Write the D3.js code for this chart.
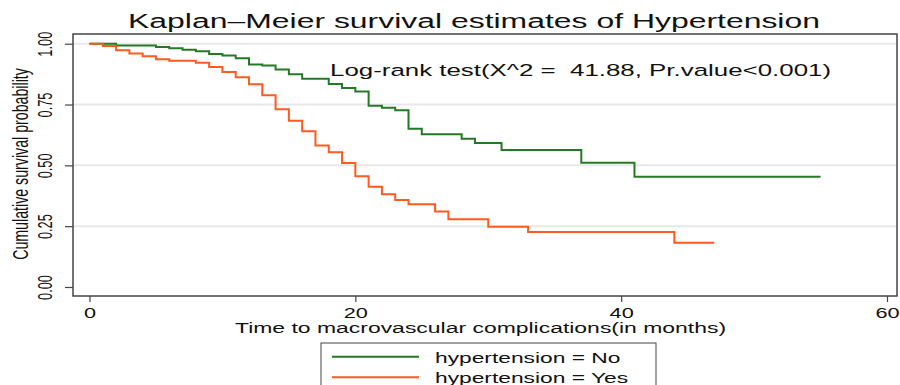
<!DOCTYPE html>
<html>
<head>
<meta charset="utf-8">
<script src="https://cdn.jsdelivr.net/npm/d3@7"></script>
<style>
  body { margin: 0; background: #fff; }
  svg text { font-family: "Liberation Sans", Arial, sans-serif; fill: #111; white-space: pre; }
</style>
</head>
<body>
<div id="chart"></div>
<script>
// data (time in months, survival probability)
const timesNo = [0, 2, 5, 6, 7, 8, 9, 10, 11, 12, 13, 14, 15, 16, 18, 19, 20, 21, 22, 23, 24, 25, 28, 29, 31, 37, 41, 55];
const survNo  = [1, 0.993, 0.986, 0.981, 0.975, 0.969, 0.958, 0.951, 0.940, 0.915, 0.910, 0.894, 0.874, 0.856, 0.834, 0.818, 0.804, 0.745, 0.737, 0.726, 0.650, 0.628, 0.609, 0.592, 0.563, 0.511, 0.453, 0.453];
const timesYes = [0, 1, 2, 3, 4, 5, 6, 8, 9, 10, 11, 12, 13, 14, 15, 16, 17, 18, 19, 20, 21, 22, 23, 24, 26, 27, 30, 33, 44, 47];
const survYes  = [1, 0.991, 0.973, 0.960, 0.948, 0.936, 0.930, 0.922, 0.904, 0.884, 0.862, 0.833, 0.788, 0.731, 0.683, 0.640, 0.582, 0.554, 0.510, 0.455, 0.412, 0.381, 0.358, 0.340, 0.310, 0.278, 0.248, 0.226, 0.182, 0.182];
const xTicks = [0, 20, 40, 60];
const yTicks = [0, 0.25, 0.5, 0.75, 1];
const groups = ["hypertension = No", "hypertension = Yes"];
const colors = ["#247a24", "#ff5a1f"];

const W = 900, H = 385;
const stretch = 1.55; // the original graph is widened, text too

let svg = d3.select("#chart").append("svg")
  .attr("width", W)
  .attr("height", H);

let frame = { left: 73, right: 897, top: 34, bottom: 296 };

let xScale = d3.scaleLinear().domain([0, 60]).range([89.5, 887]);
let yScale = d3.scaleLinear().domain([0, 1]).range([287, 43.7]);

// stretched text helper
function label(x, y, txt, size, anchor, rotate) {
  return svg.append("text")
    .attr("transform", `translate(${x},${y}) scale(${stretch},1)` + (rotate ? " rotate(-90)" : ""))
    .attr("text-anchor", anchor || "start")
    .attr("font-size", size)
    .text(txt);
}

// grid lines
svg.append("g")
  .selectAll("line")
  .data(yTicks.filter(d => d > 0))
  .join("line")
  .attr("x1", frame.left)
  .attr("x2", frame.right)
  .attr("y1", d => yScale(d))
  .attr("y2", d => yScale(d))
  .attr("stroke", "#e8e8e8")
  .attr("stroke-width", 2);

// plot frame
svg.append("rect")
  .attr("x", frame.left)
  .attr("y", frame.top)
  .attr("width", frame.right - frame.left)
  .attr("height", frame.bottom - frame.top)
  .attr("fill", "none")
  .attr("stroke", "#444")
  .attr("stroke-width", 1.5);

// x axis
let xAxis = svg.append("g")
  .attr("transform", `translate(0,${frame.bottom})`)
  .call(d3.axisBottom(xScale).tickValues(xTicks).tickSize(6).tickSizeOuter(0));
xAxis.select(".domain").remove();
xAxis.selectAll(".tick line").attr("stroke", "#444").attr("stroke-width", 1.2);
xAxis.selectAll(".tick text")
  .attr("y", null).attr("dy", null)
  .attr("fill", "#111")
  .attr("font-size", 14)
  .attr("font-family", "Liberation Sans, Arial, sans-serif")
  .attr("transform", `translate(0,22) scale(${stretch},1)`);

// y axis
let yAxis = svg.append("g")
  .attr("transform", `translate(${frame.left},0)`)
  .call(d3.axisLeft(yScale).tickValues(yTicks).tickSize(8).tickSizeOuter(0).tickFormat(d3.format(".2f")));
yAxis.select(".domain").remove();
yAxis.selectAll(".tick line").attr("stroke", "#444").attr("stroke-width", 1.2);
yAxis.selectAll(".tick text")
  .attr("x", null).attr("dy", null)
  .attr("fill", "#111")
  .attr("font-size", 12.8)
  .attr("font-family", "Liberation Sans, Arial, sans-serif")
  .attr("text-anchor", "middle")
  .attr("transform", `translate(-20.7,0) scale(${stretch},1) rotate(-90)`);

// survival curves, "No" first so "Yes" sits on top
let series = [
  timesNo.map((t, i) => [t, survNo[i]]),
  timesYes.map((t, i) => [t, survYes[i]])
];
let line = d3.line()
  .x(d => xScale(d[0]))
  .y(d => yScale(d[1]))
  .curve(d3.curveStepAfter);

svg.append("g")
  .selectAll("path")
  .data(series)
  .join("path")
  .attr("d", line)
  .attr("fill", "none")
  .attr("stroke", (d, i) => colors[i])
  .attr("stroke-width", 2);

// texts
label(474, 28, "Kaplan\u2013Meier survival estimates of Hypertension", 20.6, "middle");
label(330, 76, "Log-rank test(X^2 =  41.88, Pr.value<0.001)", 16.7, "start");
label(480.5, 333, "Time to macrovascular complications(in months)", 14.8, "middle");
label(28.4, 164, "Cumulative survival probability", 14.2, "middle", true);

// legend
svg.append("rect")
  .attr("x", 321)
  .attr("y", 343)
  .attr("width", 335)
  .attr("height", 60)
  .attr("fill", "#fff")
  .attr("stroke", "#444")
  .attr("stroke-width", 1);

groups.forEach((g, i) => {
  let y = 356.7 + i * 20.5;
  svg.append("line")
    .attr("x1", 332).attr("x2", 419)
    .attr("y1", y).attr("y2", y)
    .attr("stroke", colors[i])
    .attr("stroke-width", 2);
  label(435, y + 6, g, 14.7, "start");
});
</script>
</body>
</html>
